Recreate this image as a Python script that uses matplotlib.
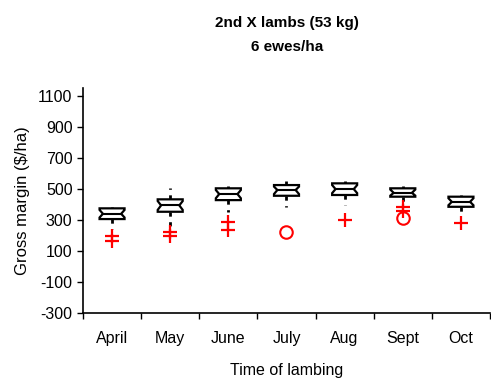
import numpy as np
import matplotlib
matplotlib.use("Agg")
import matplotlib.pyplot as plt

plt.rcParams["font.family"] = ["Liberation Sans", "DejaVu Sans"]
plt.rcParams["axes.unicode_minus"] = False

months = ["April", "May", "June", "July", "Aug", "Sept", "Oct"]
q1 = [307, 354, 429, 457, 462, 451, 386]
med = [341, 395, 468, 494, 500, 476, 418]
q3 = [376, 434, 505, 526, 537, 505, 451]
whislo = [243, 258, 354, 386, 397, 410, 326]
whishi = [386, 505, 519, 552, 554, 519, 463]
notch_lo = [317, 366, 441, 468, 474, 458, 396]
notch_hi = [366, 423, 494, 516, 526, 497, 441]
plus_out = [[198, 168], [222, 198], [288, 236], [], [301], [382, 361], [280]]
circle_out = [[], [], [], [226], [], [312], []]
yticks = [-300, -100, 100, 300, 500, 700, 900, 1100]

fig = plt.figure(figsize=(4.91, 3.80), dpi=100)
ax = fig.add_axes([0.169, 0.1755, 0.829, 0.5925])

w = 0.43
waist = 0.73
for i in range(len(months)):
    l, r = i - w / 2, i + w / 2
    lw_, rw_ = i - w * waist / 2, i + w * waist / 2
    xs = [l, l, lw_, l, l, r, r, rw_, r, r, l]
    ys = [q1[i], notch_lo[i], med[i], notch_hi[i], q3[i], q3[i],
          notch_hi[i], med[i], notch_lo[i], q1[i], q1[i]]
    ax.fill(xs, ys, facecolor="white", edgecolor="black", lw=1.6, zorder=3)
    ax.plot([lw_, rw_], [med[i], med[i]], color="black", lw=1.5, zorder=4)
    ax.plot([i, i], [q3[i], whishi[i]], color="black", lw=2,
            ls=(0, (1.5, 2)), zorder=2)
    ax.plot([i, i], [q1[i], whislo[i]], color="black", lw=2,
            ls=(0, (1.5, 2)), zorder=2)
    if plus_out[i]:
        ax.plot([i] * len(plus_out[i]), plus_out[i], ls="none", marker="+",
                color="red", ms=10, mew=1.6, zorder=5)
    if circle_out[i]:
        ax.plot([i] * len(circle_out[i]), circle_out[i], ls="none", marker="o",
                mfc="none", mec="red", ms=9, mew=1.5, zorder=5)

ax.set_xlim(-0.5, len(months) - 0.5)
ax.set_ylim(-300, 1150)
ax.set_yticks(yticks)
ax.set_yticklabels([str(v) for v in yticks])
ax.set_xticks(np.arange(len(months) + 1) - 0.5)
ax.set_xticklabels([])
ax.set_xticks(np.arange(len(months)), minor=True)
ax.set_xticklabels(months, minor=True)
ax.tick_params(axis="x", which="minor", length=0, pad=13, labelsize=11.5)
ax.tick_params(axis="x", which="major", direction="out", length=4, width=1)
ax.tick_params(axis="y", direction="out", length=4, width=1, labelsize=11.5)

for s in ["top", "right"]:
    ax.spines[s].set_visible(False)
for s in ["left", "bottom"]:
    ax.spines[s].set_linewidth(1.2)

ax.set_ylabel(r"Gross margin (\$/ha)", fontsize=12, labelpad=6)
ax.set_xlabel("Time of lambing", fontsize=11.5, labelpad=12)
fig.text(0.585, 0.909, "2nd X lambs (53 kg)\n6 ewes/ha", ha="center", va="center",
         fontsize=11, fontweight="bold", linespacing=1.9)

fig.savefig("out.png", dpi=100)
